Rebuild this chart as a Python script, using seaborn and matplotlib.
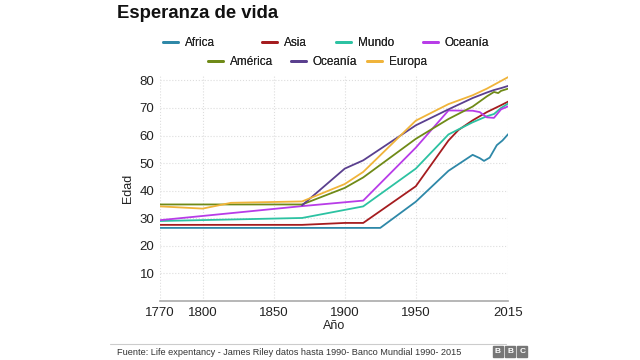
import pandas as pd
import numpy as np
import matplotlib.pyplot as plt
import seaborn as sns
from matplotlib.patches import Rectangle
from matplotlib.lines import Line2D

# ---- data ----
africa_years = [1770, 1925, 1950, 1973, 1990, 1995, 1998, 2002, 2007, 2011, 2015]
africa = [26.5, 26.5, 36.0, 47.2, 53.0, 51.8, 50.8, 52.0, 56.5, 58.2, 60.5]

asia_years = [1770, 1870, 1900, 1913, 1950, 1973, 1980, 1990, 2000, 2010, 2015]
asia = [27.6, 27.6, 28.3, 28.3, 41.6, 58.2, 62.0, 65.5, 68.5, 71.0, 72.3]

mundo_years = [1770, 1870, 1913, 1950, 1973, 1990, 2000, 2005, 2010, 2015]
mundo = [29.0, 30.1, 34.3, 48.0, 60.4, 64.8, 67.0, 67.8, 70.0, 71.6]

oceania_m_years = [1770, 1870, 1913, 1950, 1973, 1990, 1995, 2000, 2005, 2010, 2015]
oceania_m = [29.3, 34.4, 36.4, 55.6, 69.1, 69.0, 68.5, 66.6, 66.4, 69.5, 70.6]

america_years = [1770, 1870, 1900, 1913, 1950, 1973, 1990, 2000, 2005, 2008, 2010, 2015]
america = [35.0, 35.0, 41.0, 44.8, 58.8, 66.0, 70.5, 74.2, 75.8, 75.4, 76.2, 77.0]

oceania_p_years = [1870, 1900, 1913, 1950, 1973, 1990, 2000, 2005, 2010, 2015]
oceania_p = [34.7, 48.0, 51.0, 63.7, 69.5, 73.6, 75.6, 76.5, 77.2, 78.0]

europa_years = [1770, 1800, 1820, 1870, 1900, 1913, 1950, 1973, 1990, 2000, 2010, 2015]
europa = [34.3, 33.5, 35.6, 36.1, 42.4, 46.8, 65.4, 71.4, 74.6, 77.0, 79.8, 81.2]

series = [
    ('Africa', africa_years, africa, '#2e88a8'),
    ('Asia', asia_years, asia, '#a51c1f'),
    ('Mundo', mundo_years, mundo, '#2cc2a2'),
    ('Oceanía', oceania_m_years, oceania_m, '#b83ce8'),
    ('América', america_years, america, '#6f8a17'),
    ('Oceanía', oceania_p_years, oceania_p, '#5a3f8e'),
    ('Europa', europa_years, europa, '#f0b43a'),
]

x_ticks = [1770, 1800, 1850, 1900, 1950, 2015]
y_ticks = [10, 20, 30, 40, 50, 60, 70, 80]

sns.set_theme(style='white')
plt.rcParams['font.family'] = ['Liberation Sans', 'DejaVu Sans']

fig = plt.figure(figsize=[6.4, 3.6], dpi=100)
ax = fig.add_axes([0.25, 0.164, 0.544, 0.628])

handles = []
for name, yrs, vals, col in series:
    df = pd.DataFrame({'year': yrs, 'value': vals})
    sns.lineplot(data=df, x='year', y='value', ax=ax, color=col, lw=1.3)
    handles.append(Line2D([0], [0], color=col, lw=2, label=name))

ax.set_xlim(1770, 2015)
ax.set_ylim(0, 82)
ax.set_xticks(x_ticks)
ax.set_yticks(y_ticks)
ax.tick_params(axis='both', labelsize=9.5, colors='#222222', length=0, pad=4)
ax.grid(True, color='#dddddd', ls=':', lw=0.8)
for s in ['top', 'left', 'right']:
    ax.spines[s].set_visible(False)
ax.spines['bottom'].set_color('#aaaaaa')
ax.spines['bottom'].set_linewidth(1.2)
ax.set_xlabel('Año', fontsize=9, color='#222222', labelpad=1)
ax.set_ylabel('Edad', fontsize=9, color='#222222', labelpad=4)

fig.text(0.183, 0.963, 'Esperanza de vida', fontsize=13.3, fontweight='bold', color='#111111', va='center')

# legend: one entry per box, two centred rows like the original
leg_pos = [(163, 43), (262, 43), (336, 43), (423, 43), (208, 62), (291, 62), (367, 62)]
for h, (px, py) in zip(handles, leg_pos):
    leg = fig.legend(handles=[h], loc='center left', bbox_to_anchor=(px / 640, 1 - py / 360),
                     frameon=False, fontsize=8.5, handlelength=1.3, handletextpad=0.55,
                     borderpad=0, borderaxespad=0)
    fig.add_artist(leg)

# footer
fig.add_artist(Line2D([0.172, 0.79], [0.045, 0.045], color='#cccccc', lw=0.8,
                      transform=fig.transFigure))
fig.text(0.183, 0.022, 'Fuente: Life expentancy - James Riley datos hasta 1990- Banco Mundial 1990- 2015',
         fontsize=6.6, color='#333333', va='center')
for i, letter in enumerate('BBC'):
    x0 = 0.77 + i * 0.019
    fig.add_artist(Rectangle((x0, 0.008), 0.016, 0.03, color='#777777', transform=fig.transFigure))
    fig.text(x0 + 0.008, 0.023, letter, fontsize=6, color='white', fontweight='bold', ha='center', va='center')

fig.savefig('out.png', dpi=100, facecolor='white')
